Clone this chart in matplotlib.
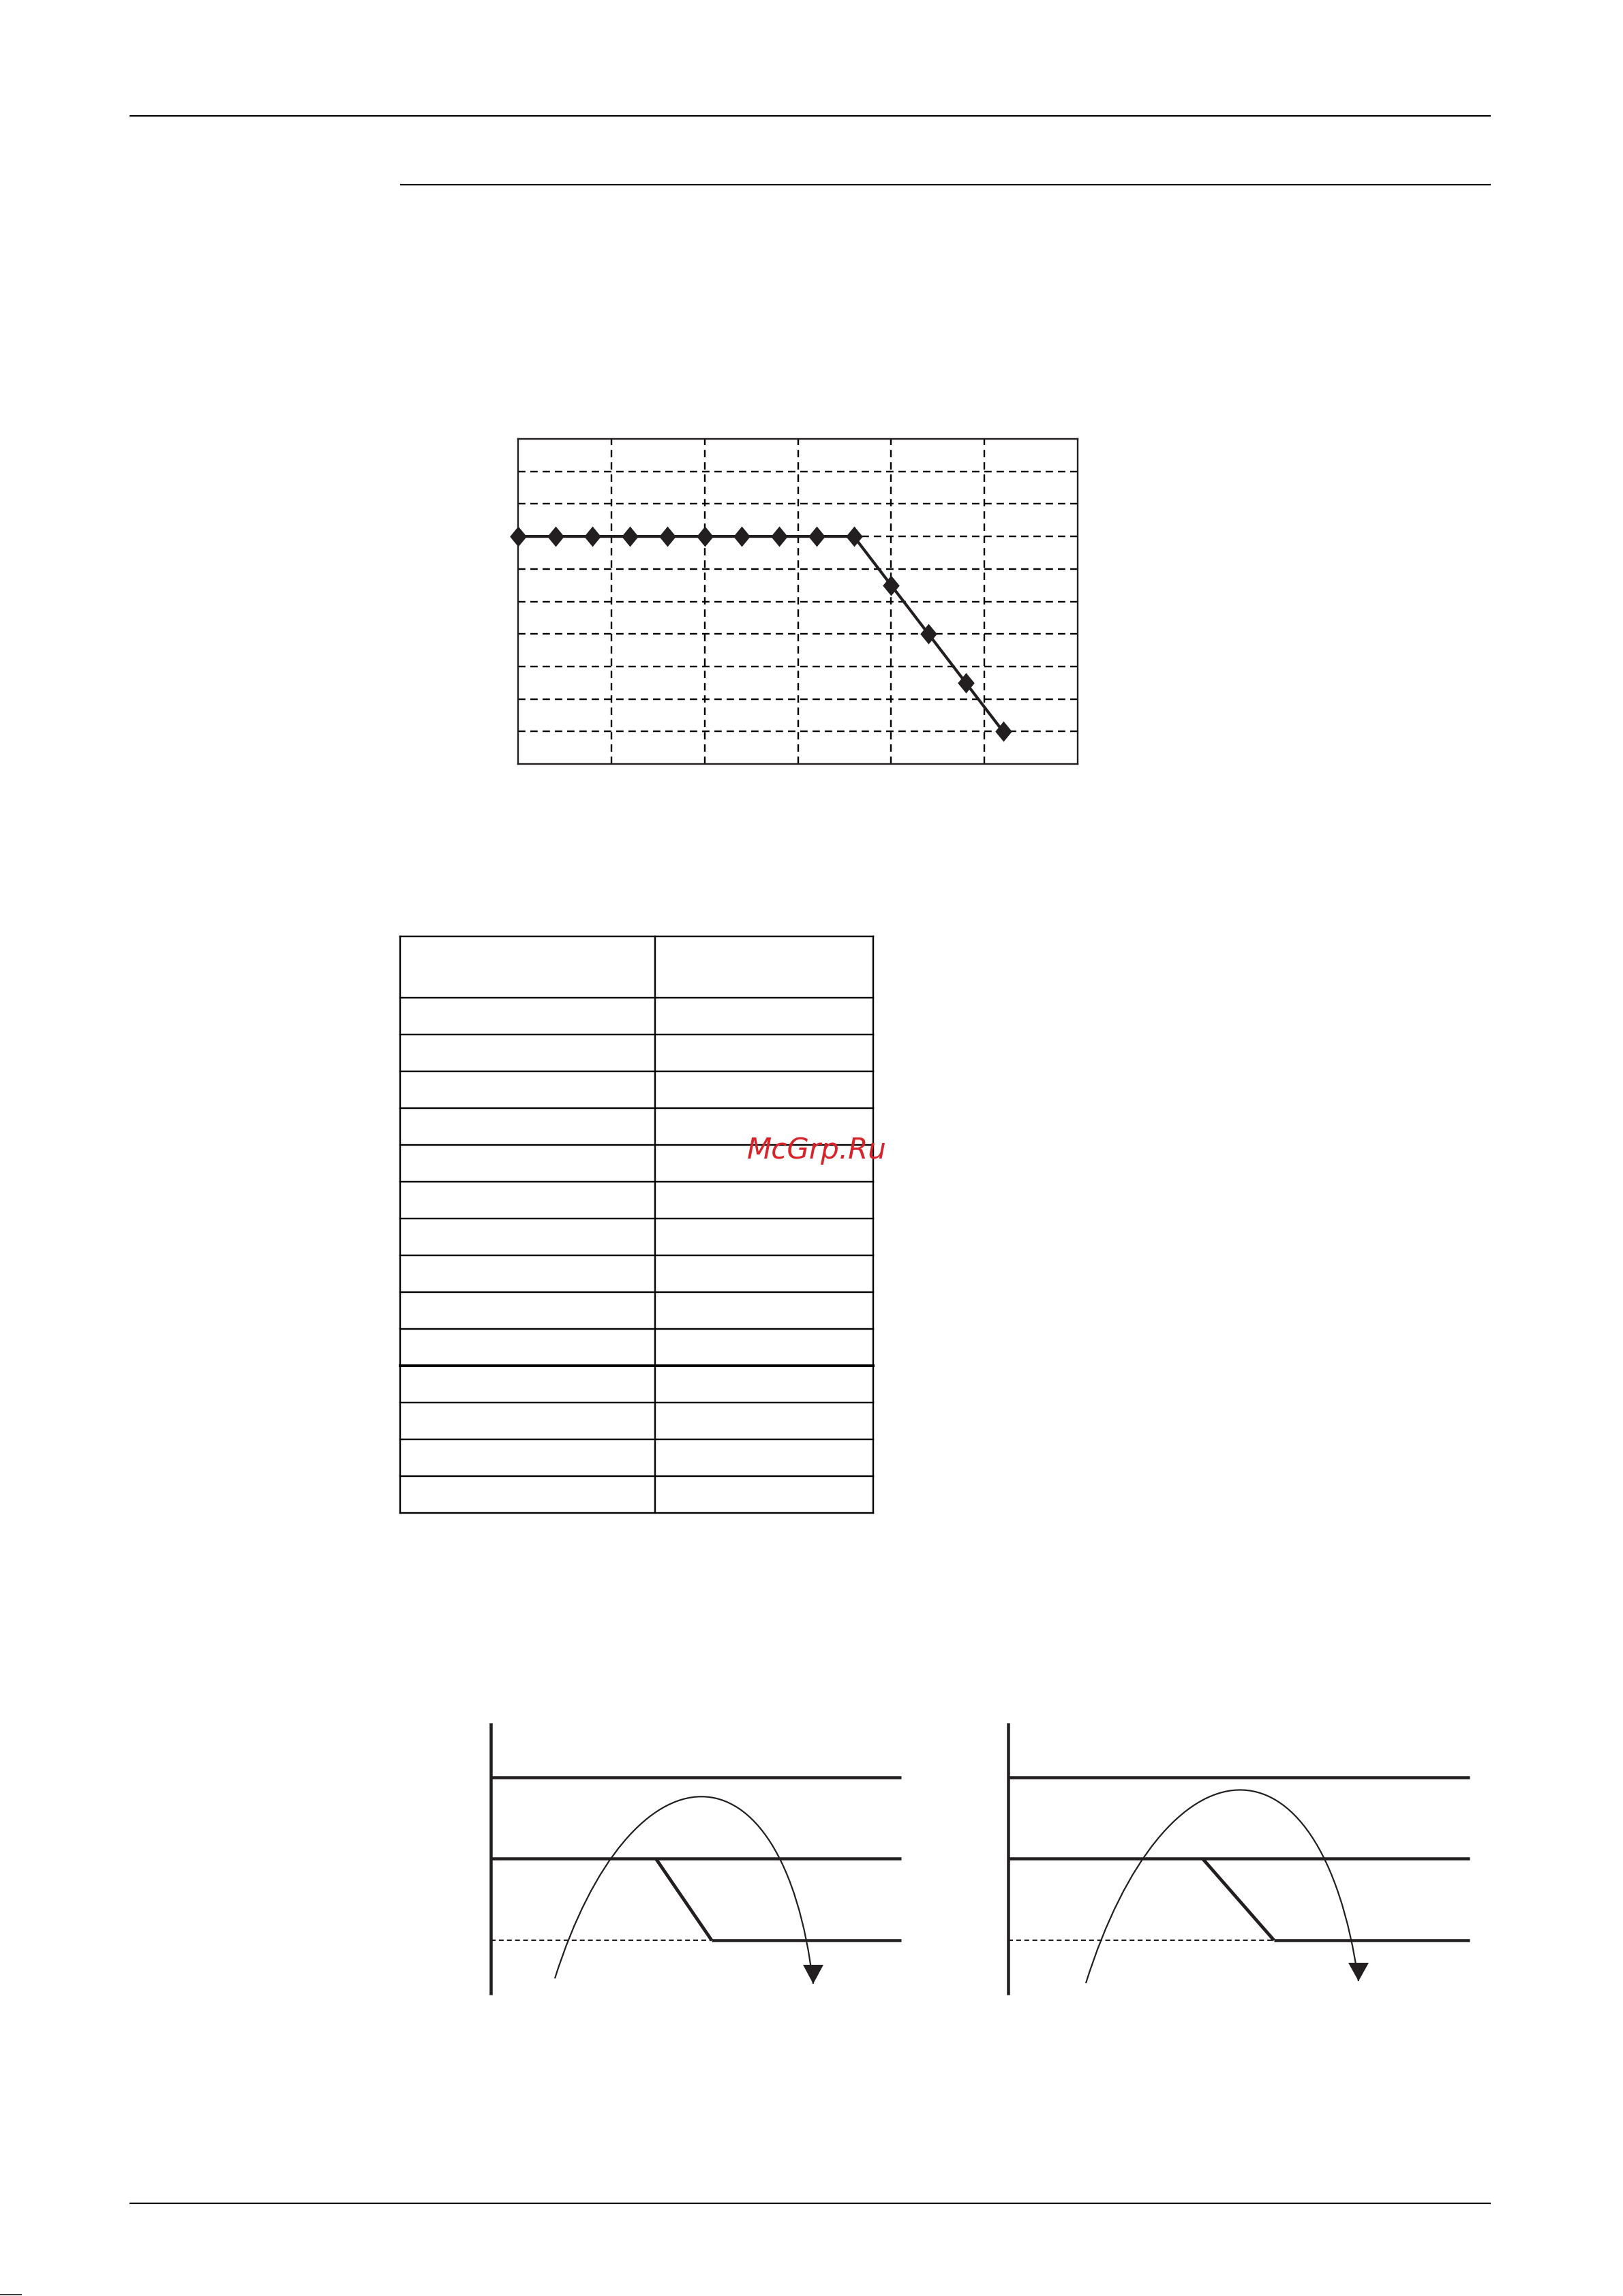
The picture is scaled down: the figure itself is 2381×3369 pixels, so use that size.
import matplotlib
matplotlib.use("Agg")
import matplotlib.pyplot as plt
from matplotlib.path import Path
from matplotlib.patches import PathPatch, Polygon

# ---------------- data ----------------
# line chart (diamond markers)
x_vals = [0, 4, 8, 12, 16, 20, 24, 28, 32, 36, 40, 44, 48, 52]
y_vals = [70, 70, 70, 70, 70, 70, 70, 70, 70, 70, 55, 40, 25, 10]
x_grid = [10, 20, 30, 40, 50]
y_grid = [10, 20, 30, 40, 50, 60, 70, 80, 90]
x_range = [0, 60]
y_range = [0, 100]

# empty table: header + data rows
table_data_rows = 14
table_thick_after = 10  # heavier rule after this many data rows

# ---------------- layout (pixels on the page) ----------------
W, H, DPI = 2381, 3369, 100
INK = "#231f20"
px = 72.0 / DPI  # points per pixel

fig = plt.figure(figsize=(W / DPI, H / DPI), dpi=DPI)
fig.patch.set_facecolor("white")

page = fig.add_axes([0, 0, 1, 1])
page.set_xlim(0, W)
page.set_ylim(H, 0)
page.axis("off")

# page rules
page.plot([190, 2187], [170, 170], color="black", lw=2.2 * px, solid_capstyle="butt")
page.plot([587, 2187], [271, 271], color="black", lw=2.2 * px, solid_capstyle="butt")
page.plot([190, 2187], [3233, 3233], color="black", lw=2.2 * px, solid_capstyle="butt")
page.plot([0, 32], [3367, 3367], color="black", lw=1.5 * px, solid_capstyle="butt")

# ---------------- chart ----------------
box = (760, 644, 1581, 1121)  # left, top, right, bottom
ax = fig.add_axes([box[0] / W, 1 - box[3] / H, (box[2] - box[0]) / W, (box[3] - box[1]) / H])
ax.set_xlim(*x_range)
ax.set_ylim(*y_range)
ax.set_facecolor("none")
for s in ax.spines.values():
    s.set_linewidth(2.4 * px)
    s.set_color(INK)
ax.set_xticks([])
ax.set_yticks([])
for gx in x_grid:
    ax.axvline(gx, color="black", lw=2.4 * px, linestyle=(0, (4.5, 3.0)), zorder=1)
for gy in y_grid:
    ax.axhline(gy, color="black", lw=2.4 * px, linestyle=(0, (4.5, 3.0)), zorder=1)
diamond = [(0, 1), (0.82, 0), (0, -1), (-0.82, 0), (0, 1)]
ax.plot(x_vals, y_vals, color=INK, lw=4.2 * px, marker=diamond, markersize=30 * px,
        markerfacecolor=INK, markeredgewidth=0, clip_on=False, zorder=3)

# ---------------- table ----------------
t_left, t_mid, t_right = 587, 961, 1281
t_top, t_head, t_bottom = 1374, 1464, 2220
row_h = (t_bottom - t_head) / table_data_rows
for xv in (t_left, t_mid, t_right):
    page.plot([xv, xv], [t_top, t_bottom], color="black", lw=2.4 * px, solid_capstyle="projecting")
page.plot([t_left, t_right], [t_top, t_top], color="black", lw=2.4 * px, solid_capstyle="projecting")
page.plot([t_left, t_right], [t_head, t_head], color="black", lw=2.4 * px)
for k in range(1, table_data_rows + 1):
    yv = t_head + k * row_h
    lw = 4.0 if k == table_thick_after else 2.4
    page.plot([t_left, t_right], [yv, yv], color="black", lw=lw * px, solid_capstyle="projecting")

# watermark
page.text(1096, 1700, "McGrp.Ru", fontsize=42 * px, style="italic", color="#d8232a",
          ha="left", va="baseline", family="DejaVu Sans", zorder=10)

# ---------------- diagrams ----------------
def diagram(ax_x, line_end, slant_top_x, slant_bot_x, curve, tip, arrow_base_y, arrow_half):
    y_top_line, y_mid_line, y_bot_line = 2608, 2727, 2847
    page.plot([ax_x, ax_x], [2528, 2927], color=INK, lw=4.5 * px, solid_capstyle="butt")
    page.plot([ax_x, line_end], [y_top_line, y_top_line], color=INK, lw=4.5 * px, solid_capstyle="butt")
    page.plot([ax_x, line_end], [y_mid_line, y_mid_line], color=INK, lw=4.5 * px, solid_capstyle="butt")
    page.plot([slant_top_x, slant_bot_x], [y_mid_line, y_bot_line], color=INK, lw=4.8 * px,
              solid_capstyle="butt")
    page.plot([slant_bot_x, line_end], [y_bot_line, y_bot_line], color=INK, lw=4.5 * px,
              solid_capstyle="butt")
    page.plot([ax_x, slant_bot_x], [y_bot_line, y_bot_line], color=INK, lw=2.2 * px,
              linestyle=(0, (3.2, 2.2)))
    verts = list(curve) + [tip]
    codes = [Path.MOVETO, Path.CURVE4, Path.CURVE4, Path.CURVE4]
    page.add_patch(PathPatch(Path(verts, codes), facecolor="none", edgecolor=INK, lw=2.2 * px))
    page.add_patch(Polygon([tip, (tip[0] - arrow_half, arrow_base_y), (tip[0] + arrow_half, arrow_base_y)],
                           closed=True, facecolor=INK, edgecolor="none", zorder=5))

diagram(720, 1322, 962, 1044,
        [(814, 2903), (926, 2550), (1149, 2542)], (1193, 2911), 2883, 15)
diagram(1479, 2156, 1764, 1869,
        [(1593, 2910), (1709, 2542), (1938, 2523)], (1993, 2907), 2880, 15)

fig.savefig("out.png", dpi=DPI, facecolor="white")
